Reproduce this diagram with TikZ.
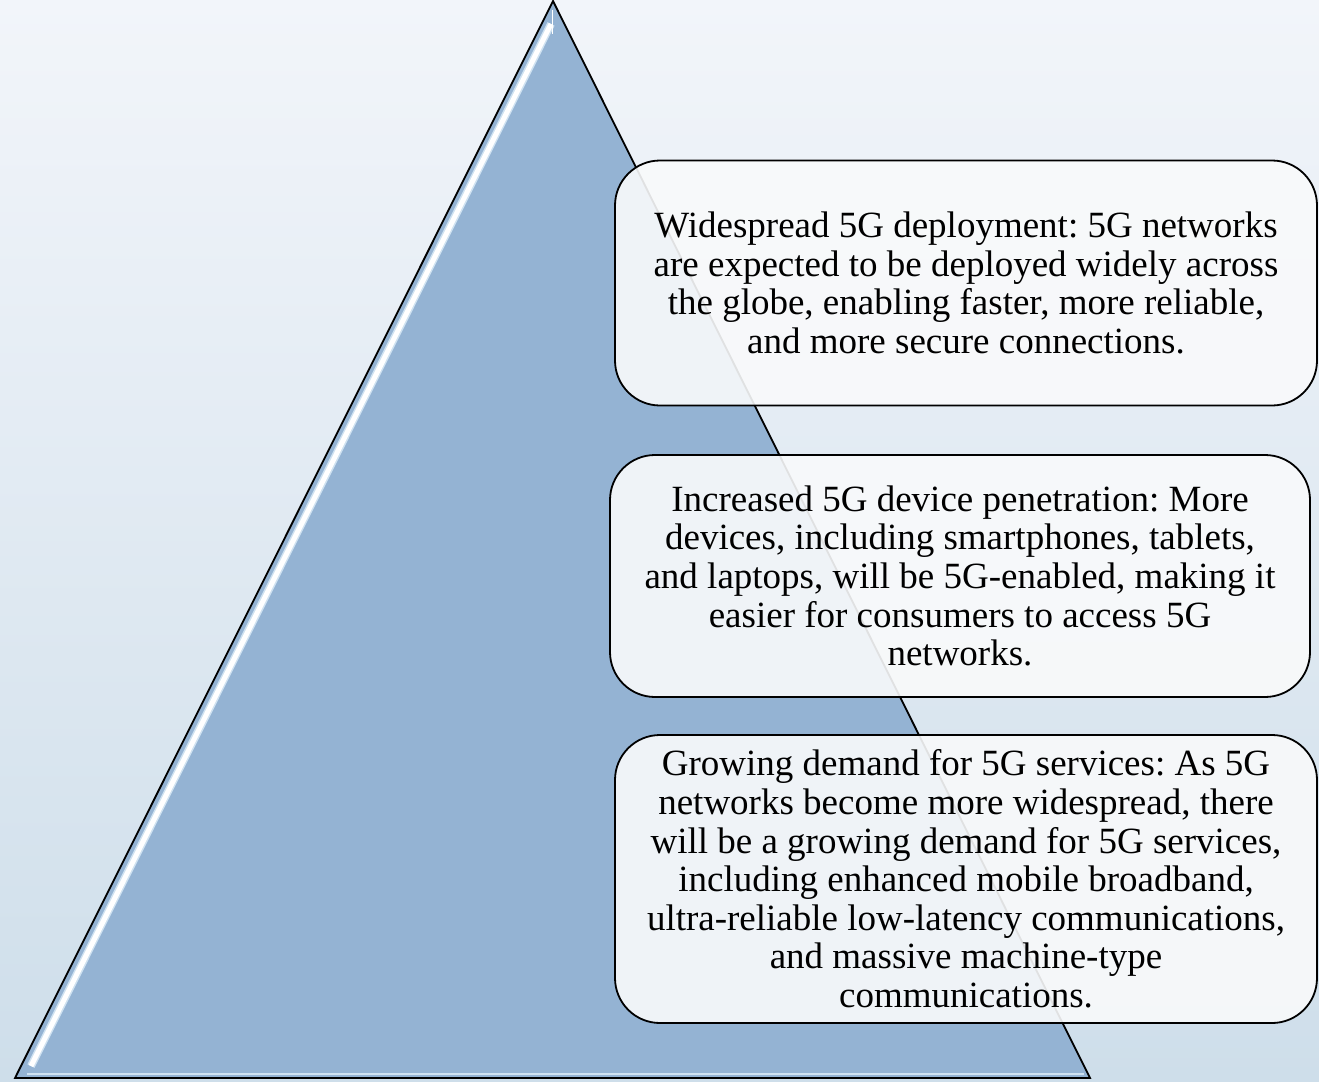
\documentclass[tikz,border=0pt]{standalone}
\usepackage{fontspec}
\setmainfont{Liberation Serif}
\frenchspacing
\usetikzlibrary{shapes.geometric}
\definecolor{bgtop}{HTML}{F2F5FA}
\definecolor{bgbot}{HTML}{CEDEEA}
\definecolor{tri}{HTML}{94B3D3}
\definecolor{halo}{HTML}{CFE2F1}
\definecolor{boxfill}{HTML}{F9FAFB}
\tikzset{
  infobox/.style={draw=black, line width=1.8pt, rounded corners=45pt, fill=boxfill, fill opacity=0.9, text opacity=1, align=center, inner sep=0pt, font=\fontsize{37}{38.6}\selectfont\frenchspacing},
}
\begin{document}
\begin{tikzpicture}[x=1pt,y=-1pt]
\useasboundingbox (0,0) rectangle (1319,1081);
\shade[top color=bgtop, bottom color=bgbot] (0,0) rectangle (1319,1081);
% pyramid
\coordinate (apex) at (553,1);
\coordinate (bl) at (15,1078);
\coordinate (br) at (1090,1078);
\fill[tri] (apex) -- (bl) -- (br) -- cycle;
\draw[halo, line width=1.6pt] (bl) ++(12,-4) -- (1084,1074);
\draw[halo, line width=8pt] (31,1066) -- (551,24);
\draw[white, line width=5pt] (31,1066) -- (551,24);
\draw[white, line width=1.5pt] (552.5,10) -- (552.5,34);
\draw[black, line width=1.8pt, line join=miter] (apex) -- (bl) -- (br) -- cycle;
% boxes
\node[infobox, minimum width=702pt, minimum height=245pt] (b1) at (966,283)
  {Widespread 5G deployment: 5G networks\\are expected to be deployed widely across\\the globe, enabling faster, more reliable,\\and more secure connections.};
\node[infobox, minimum width=700pt, minimum height=242pt] (b2) at (960,576)
  {Increased 5G device penetration: More\\devices, including smartphones, tablets,\\and laptops, will be 5G-enabled, making it\\easier for consumers to access 5G\\networks.};
\node[infobox, minimum width=702pt, minimum height=288pt] (b3) at (966,879)
  {Growing demand for 5G services: As 5G\\networks become more widespread, there\\will be a growing demand for 5G services,\\including enhanced mobile broadband,\\ultra-reliable low-latency communications,\\and massive machine-type\\communications.};
\end{tikzpicture}
\end{document}
